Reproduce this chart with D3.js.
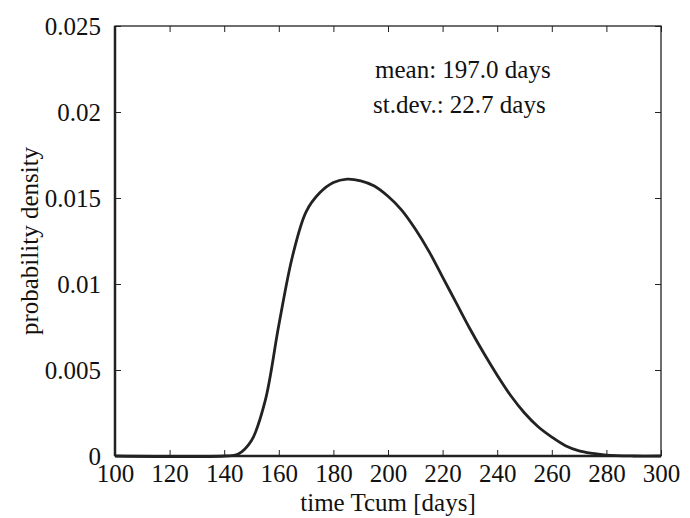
<!DOCTYPE html>
<html><head><meta charset="utf-8">
<script src="https://cdn.jsdelivr.net/npm/d3@7"></script>
<style>body{margin:0;background:#fff}</style>
</head><body><div id="chart"></div>
<script>
var days = [100,140,145,150,155,160,165,170,175,180,185,190,195,200,205,210,215,220,225,230,235,240,245,250,255,260,265,270,275,280,290,300];
var density = [0,0,0.0001,0.0009,0.0032,0.0076,0.0116,0.0142,0.0153,0.0159,0.0161,0.0160,0.0157,0.0151,0.0143,0.0132,0.0119,0.0104,0.0089,0.0074,0.006,0.0047,0.0035,0.0025,0.0017,0.0011,0.0006,0.0003,0.00015,0.00005,0,0];
var xTicks = [100,120,140,160,180,200,220,240,260,280,300];
var yTicks = [0,0.005,0.01,0.015,0.02,0.025];

var margin = {top: 26, right: 29, bottom: 62, left: 115},
    width = 690 - margin.left - margin.right,
    height = 518 - margin.top - margin.bottom;

var font = "'Liberation Serif', 'Times New Roman', Times, serif";
var svg = d3.select("#chart").append("svg")
    .attr("width", 690).attr("height", 518)
    .style("font-family", font)
  .append("g")
    .attr("transform", "translate(" + margin.left + "," + margin.top + ")");

var x = d3.scaleLinear().domain([100,300]).range([0,width]);
var y = d3.scaleLinear().domain([0,0.025]).range([height,0]);

function styleAxis(g){
  g.select(".domain").remove();
  g.selectAll("line").attr("stroke","#222");
  g.selectAll("text").attr("font-size","25px").attr("fill","#111").attr("font-family",font);
}

svg.append("g").attr("transform","translate(0,"+height+")")
  .call(d3.axisBottom(x).tickValues(xTicks).tickSize(-6).tickPadding(8).tickFormat(d3.format("d")))
  .call(styleAxis);
svg.append("g")
  .call(d3.axisTop(x).tickValues(xTicks).tickSize(-6).tickFormat(""))
  .call(styleAxis);
svg.append("g")
  .call(d3.axisLeft(y).tickValues(yTicks).tickSize(-6).tickPadding(14).tickFormat(function(d){return d===0?"0":String(+d.toFixed(3));}))
  .call(styleAxis);
svg.append("g").attr("transform","translate("+width+",0)")
  .call(d3.axisRight(y).tickValues(yTicks).tickSize(-6).tickFormat(""))
  .call(styleAxis);

svg.append("rect").attr("width",width).attr("height",height)
  .attr("fill","none").attr("stroke","#222").attr("stroke-width",1.3);
svg.append("line").attr("x1",0).attr("x2",0).attr("y1",0).attr("y2",height).attr("stroke","#222").attr("stroke-width",2.5);
svg.append("line").attr("x1",0).attr("x2",width).attr("y1",height).attr("y2",height).attr("stroke","#222").attr("stroke-width",2.5);

var pts = days.map(function(d,i){return [d,density[i]];});
svg.append("path").datum(pts)
  .attr("fill","none").attr("stroke","#222").attr("stroke-width",2.8)
  .attr("d", d3.line().x(function(d){return x(d[0]);}).y(function(d){return y(d[1]);}).curve(d3.curveCatmullRom));

svg.append("text").attr("x",375-margin.left).attr("y",78-margin.top)
  .attr("font-size","25px").attr("fill","#111").text("mean: 197.0 days");
svg.append("text").attr("x",373-margin.left).attr("y",113-margin.top)
  .attr("font-size","25px").attr("fill","#111").text("st.dev.: 22.7 days");

svg.append("text").attr("x",width/2).attr("y",511-margin.top)
  .attr("text-anchor","middle").attr("font-size","25px").attr("fill","#111").text("time Tcum [days]");
svg.append("text").attr("transform","translate("+(38-margin.left)+","+(height/2)+") rotate(-90)")
  .attr("text-anchor","middle").attr("font-size","25px").attr("fill","#111").text("probability density");
</script></body></html>
